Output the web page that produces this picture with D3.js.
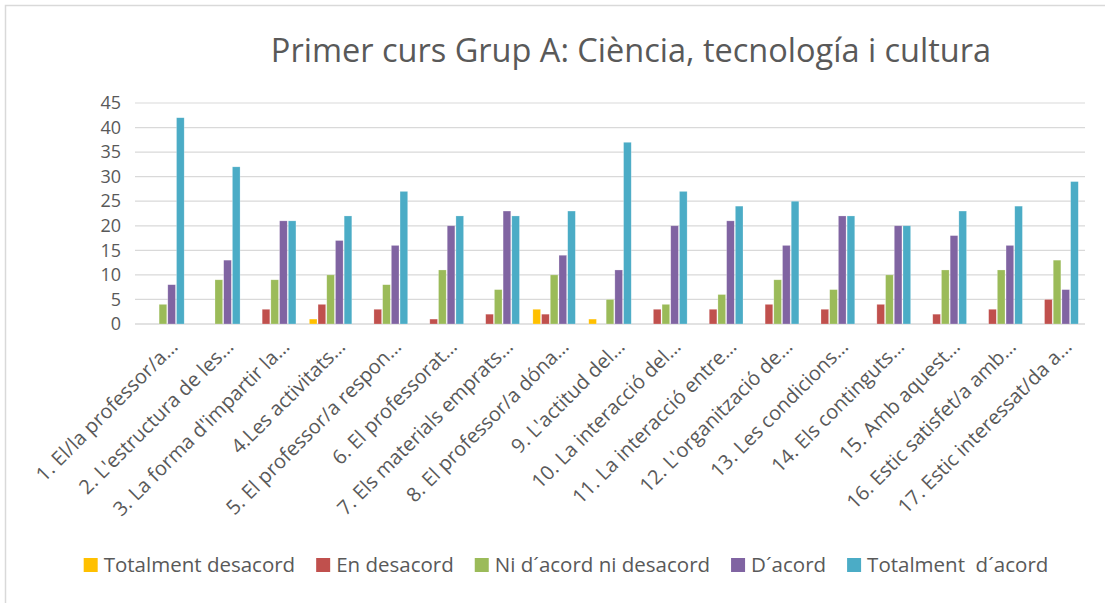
<!DOCTYPE html>
<html>
<head>
<meta charset="utf-8">
<script src="https://cdn.jsdelivr.net/npm/d3@7"></script>
<style>
  body { margin: 0; background: #fff; }
  svg { display: block; font-family: "Open Sans", sans-serif; }
</style>
</head>
<body>
<div id="chart"></div>
<script>
const categories = [
  "1. El/la professor/a…",
  "2. L'estructura de les…",
  "3. La forma d'impartir la…",
  "4.Les activitats…",
  "5. El professor/a respon…",
  "6. El professorat…",
  "7. Els materials emprats…",
  "8. El professor/a dóna…",
  "9. L'actitud del…",
  "10. La interacció del…",
  "11. La interacció entre…",
  "12. L'organització de…",
  "13. Les condicions…",
  "14. Els continguts…",
  "15. Amb aquest…",
  "16. Estic satisfet/a amb…",
  "17. Estic interessat/da a…"
];
const seriesNames = ["Totalment desacord", "En desacord", "Ni d´acord ni desacord", "D´acord", "Totalment  d´acord"];
const totalmentDesacord = [0, 0, 0, 1, 0, 0, 0, 3, 1, 0, 0, 0, 0, 0, 0, 0, 0];
const enDesacord        = [0, 0, 3, 4, 3, 1, 2, 2, 0, 3, 3, 4, 3, 4, 2, 3, 5];
const niAcord           = [4, 9, 9, 10, 8, 11, 7, 10, 5, 4, 6, 9, 7, 10, 11, 11, 13];
const dAcord            = [8, 13, 21, 17, 16, 20, 23, 14, 11, 20, 21, 16, 22, 20, 18, 16, 7];
const totalmentAcord    = [42, 32, 21, 22, 27, 22, 22, 23, 37, 27, 24, 25, 22, 20, 23, 24, 29];
const yTicks = [0, 5, 10, 15, 20, 25, 30, 35, 40, 45];
const colors = ["#FFC000", "#C0504D", "#9BBB59", "#8064A2", "#4BACC6"];
const title = "Primer curs Grup A: Ciència, tecnología i cultura";

const seriesValues = [totalmentDesacord, enDesacord, niAcord, dAcord, totalmentAcord];

const width = 1105, height = 603;
const plot = { left: 135, right: 1085, top: 103, bottom: 324 };
const textColor = "#595959";
const gridColor = "#d9d9d9";

const svg = d3.select("#chart").append("svg")
  .attr("width", width)
  .attr("height", height);

// chart border
svg.append("rect")
  .attr("x", 5.5).attr("y", 5.5)
  .attr("width", width + 20).attr("height", height + 20)
  .attr("fill", "#fff")
  .attr("stroke", gridColor)
  .attr("stroke-width", 1.5);

svg.append("text")
  .attr("x", 631).attr("y", 62)
  .attr("text-anchor", "middle")
  .attr("font-size", 32.5)
  .attr("fill", textColor)
  .text(title);

const x0 = d3.scaleBand()
  .domain(categories)
  .range([plot.left, plot.right])
  .paddingInner(0.24)
  .paddingOuter(0.12);

const x1 = d3.scaleBand()
  .domain(seriesNames)
  .range([0, x0.bandwidth()])
  .paddingInner(0.12);

const y = d3.scaleLinear()
  .domain([0, 45])
  .range([plot.bottom, plot.top]);

// gridlines
svg.append("g")
  .selectAll("line")
  .data(yTicks)
  .join("line")
  .attr("x1", plot.left).attr("x2", plot.right)
  .attr("y1", d => y(d)).attr("y2", d => y(d))
  .attr("stroke", gridColor)
  .attr("stroke-width", d => d === 0 ? 1.5 : 1.2);

// y axis labels
const yAxis = svg.append("g")
  .attr("transform", `translate(${plot.left - 14},0)`)
  .call(d3.axisLeft(y).tickValues(yTicks).tickSize(0).tickPadding(0));
yAxis.select(".domain").remove();
yAxis.selectAll("text")
  .attr("font-family", "Open Sans, sans-serif")
  .attr("font-size", 18)
  .attr("fill", textColor);

// bars
const rows = categories.map((c, i) => ({ cat: c, vals: seriesNames.map((s, j) => ({ s, j, v: seriesValues[j][i] })) }));

svg.append("g")
  .selectAll("g")
  .data(rows)
  .join("g")
  .attr("transform", d => `translate(${x0(d.cat)},0)`)
  .selectAll("rect")
  .data(d => d.vals.filter(e => e.v > 0))
  .join("rect")
  .attr("x", d => x1(d.s))
  .attr("width", x1.bandwidth())
  .attr("y", d => y(d.v))
  .attr("height", d => y(0) - y(d.v))
  .attr("fill", d => colors[d.j])
  .attr("stroke", "#fff")
  .attr("stroke-opacity", 0.4)
  .attr("stroke-width", 0.6);

// category labels
const xAxis = svg.append("g")
  .attr("transform", `translate(0,${plot.bottom})`)
  .call(d3.axisBottom(x0).tickSize(0).tickPadding(0));
xAxis.select(".domain").remove();
xAxis.selectAll("text")
  .attr("font-family", "Open Sans, sans-serif")
  .attr("font-size", 20)
  .attr("fill", textColor)
  .attr("text-anchor", "end")
  .attr("dy", 0)
  .attr("y", 0)
  .attr("transform", "translate(16,24) rotate(-45)");

// legend
const legend = svg.append("g").attr("font-size", 20.5).attr("fill", textColor);
const items = legend.selectAll("g")
  .data(seriesNames)
  .join("g");
items.append("rect")
  .attr("width", 14).attr("height", 14)
  .attr("y", -7)
  .attr("fill", (d, i) => colors[i]);
items.append("text")
  .attr("x", 20)
  .attr("dy", "0.35em")
  .style("white-space", "pre")
  .text(d => d);

let cx = 0;
const pos = [];
items.each(function () {
  const w = 20 + d3.select(this).select("text").node().getComputedTextLength();
  pos.push(cx);
  cx += w + 21;
});
const total = cx - 21;
const startX = 566 - total / 2;
items.attr("transform", (d, i) => `translate(${startX + pos[i]},565)`);
</script>
</body>
</html>
